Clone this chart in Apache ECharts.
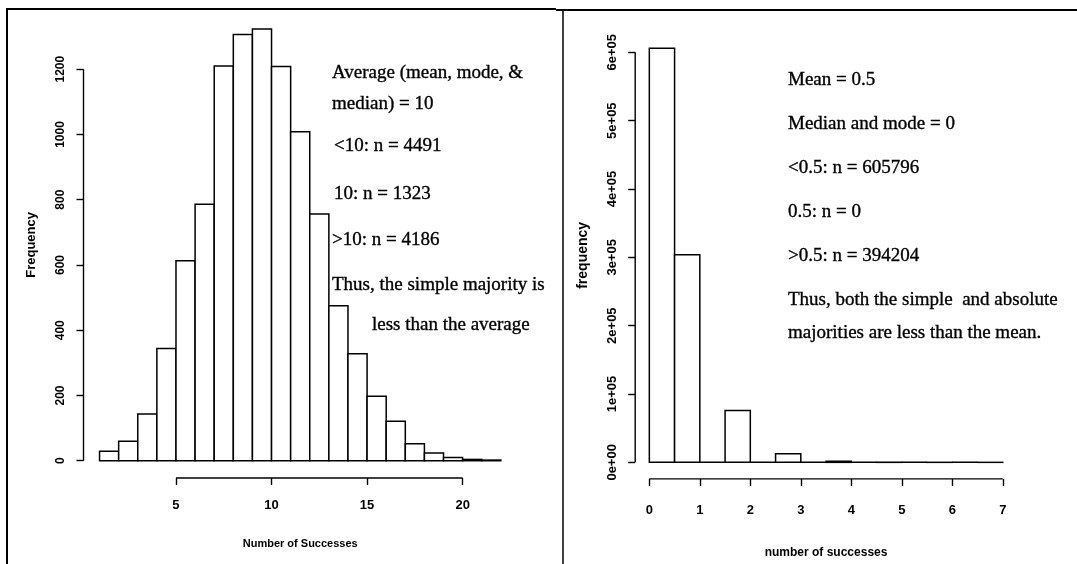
<!DOCTYPE html>
<html>
<head>
<meta charset="utf-8">
<script src="https://cdn.jsdelivr.net/npm/echarts@6/dist/echarts.min.js"></script>
<style>
  html, body { margin: 0; padding: 0; background: #fff; }
  #chart { width: 1077px; height: 564px; }
</style>
</head>
<body>
<div id="chart"></div>
<script>
// ---- Left histogram: number of successes, 10,000 runs ----
const leftBreaks = [1, 2, 3, 4, 5, 6, 7, 8, 9, 10, 11, 12, 13, 14, 15, 16, 17, 18, 19, 20, 21, 22];
const leftCounts = [29, 60, 143, 344, 613, 786, 1210, 1306, 1323, 1208, 1008, 756, 475, 328, 198, 121, 52, 24, 10, 4, 2];
const leftXTicks = [5, 10, 15, 20];
const leftYTicks = [0, 200, 400, 600, 800, 1000, 1200];
const leftNotes = [
  'Average (mean, mode, &',
  'median) = 10',
  '<10: n = 4491',
  '10: n = 1323',
  '>10: n = 4186',
  'Thus, the simple majority is',
  'less than the average'
];

// ---- Right histogram: number of successes, 1,000,000 runs ----
const rightBreaks = [0, 0.5, 1, 1.5, 2, 2.5, 3, 3.5, 4, 4.5, 5, 5.5, 6, 6.5, 7];
const rightCounts = [605796, 303700, 0, 76000, 0, 12700, 0, 1600, 0, 180, 0, 20, 0, 4];
const rightXTicks = [0, 1, 2, 3, 4, 5, 6, 7];
const rightYTicks = [0, 100000, 200000, 300000, 400000, 500000, 600000];
const rightYTickLabels = ['0e+00', '1e+05', '2e+05', '3e+05', '4e+05', '5e+05', '6e+05'];
const rightNotes = [
  'Mean = 0.5',
  'Median and mode = 0',
  '<0.5: n = 605796',
  '0.5: n = 0',
  '>0.5: n = 394204',
  'Thus, both the simple  and absolute',
  'majorities are less than the mean.'
];

// R-style plot range: data range padded by 4% on each side
function padRange(lo, hi) {
  const d = (hi - lo) * 0.04;
  return [lo - d, hi + d];
}
const leftX = padRange(leftBreaks[0], leftBreaks[leftBreaks.length - 1]);
const leftY = padRange(0, Math.max.apply(null, leftCounts));
const rightX = padRange(rightBreaks[0], rightBreaks[rightBreaks.length - 1]);
const rightY = padRange(0, Math.max.apply(null, rightCounts));

const SANS = '"Liberation Sans", Arial, sans-serif';
const SERIF = '"Liberation Serif", "Times New Roman", serif';

function binsOf(breaks, counts) {
  return counts.map((c, i) => [breaks[i], breaks[i + 1], c]);
}

function histItem(params, api) {
  const base = api.coord([api.value(0), 0]);
  const top = api.coord([api.value(1), api.value(2)]);
  return {
    type: 'rect',
    shape: { x: base[0], y: top[1], width: top[0] - base[0], height: base[1] - top[1] },
    style: { fill: '#fff', stroke: '#000', lineWidth: 1.5 }
  };
}

// axis line drawn only between the first and last tick, as in base R graphics
function segItem(params, api) {
  const p0 = api.coord([api.value(0), api.value(1)]);
  const p1 = api.coord([api.value(2), api.value(3)]);
  return {
    type: 'line',
    shape: { x1: p0[0], y1: p0[1], x2: p1[0], y2: p1[1] },
    style: { stroke: '#000', lineWidth: 1.4 }
  };
}

function axisSegments(xr, yr, xt, yt) {
  return [
    [xt[0], yr[0], xt[xt.length - 1], yr[0]],
    [xr[0], yt[0], xr[0], yt[yt.length - 1]]
  ];
}

function labelStyle(size) {
  return { color: '#000', fontFamily: SANS, fontSize: size, fontWeight: 'bold' };
}

function xAxisCfg(gridIndex, range, ticks, name, margin, gap, size, nameSize) {
  return {
    type: 'value', gridIndex, min: range[0], max: range[1],
    axisLine: { show: false, onZero: false },
    splitLine: { show: false },
    axisTick: { show: true, length: 7, customValues: ticks, lineStyle: { color: '#000', width: 1.4 } },
    axisLabel: Object.assign({ customValues: ticks, margin }, labelStyle(size)),
    name, nameLocation: 'middle', nameGap: gap,
    nameTextStyle: labelStyle(nameSize)
  };
}

function yAxisCfg(gridIndex, range, ticks, name, margin, gap, size, nameSize, formatter) {
  return {
    type: 'value', gridIndex, min: range[0], max: range[1],
    axisLine: { show: false, onZero: false },
    splitLine: { show: false },
    axisTick: { show: true, length: 7, customValues: ticks, lineStyle: { color: '#000', width: 1.4 } },
    axisLabel: Object.assign({ customValues: ticks, margin, rotate: 90, formatter }, labelStyle(size)),
    name, nameLocation: 'middle', nameGap: gap, nameRotate: 90,
    nameTextStyle: labelStyle(nameSize)
  };
}

function notes(lines, xs, ys) {
  return lines.map((t, i) => ({
    type: 'text', x: xs[i], y: ys[i],
    style: {
      text: t, font: '19px ' + SERIF, fill: '#000',
      stroke: '#000', lineWidth: 0.35, verticalAlign: 'middle'
    }
  }));
}

const chart = echarts.init(document.getElementById('chart'), null, { renderer: 'canvas' });

chart.setOption({
  animation: false,
  backgroundColor: '#fff',
  grid: [
    { left: 83.5, top: 11.8, width: 433.4, height: 466.2 },
    { left: 635.2, top: 31.8, width: 381.7, height: 447.1 }
  ],
  xAxis: [
    xAxisCfg(0, leftX, leftXTicks, 'Number of Successes', 21, 60, 13, 11),
    xAxisCfg(1, rightX, rightXTicks, 'number of successes', 25, 68, 13, 12)
  ],
  yAxis: [
    yAxisCfg(0, leftY, leftYTicks, 'Frequency', 17, 46, 12, 13, v => String(v)),
    yAxisCfg(1, rightY, rightYTicks, 'frequency', 16, 45, 13, 14,
      v => rightYTickLabels[rightYTicks.indexOf(v)])
  ],
  series: [
    {
      type: 'custom', xAxisIndex: 0, yAxisIndex: 0,
      renderItem: histItem, data: binsOf(leftBreaks, leftCounts)
    },
    {
      type: 'custom', xAxisIndex: 1, yAxisIndex: 1,
      renderItem: histItem, data: binsOf(rightBreaks, rightCounts)
    },
    {
      type: 'custom', xAxisIndex: 0, yAxisIndex: 0, silent: true,
      renderItem: segItem, data: axisSegments(leftX, leftY, leftXTicks, leftYTicks)
    },
    {
      type: 'custom', xAxisIndex: 1, yAxisIndex: 1, silent: true,
      renderItem: segItem, data: axisSegments(rightX, rightY, rightXTicks, rightYTicks)
    }
  ],
  graphic: [
    // panel frames
    { type: 'line', shape: { x1: 7, y1: 9, x2: 556, y2: 9 }, style: { stroke: '#000', lineWidth: 2 } },
    { type: 'line', shape: { x1: 556, y1: 10, x2: 1077, y2: 10 }, style: { stroke: '#000', lineWidth: 2 } },
    { type: 'line', shape: { x1: 7, y1: 8, x2: 7, y2: 564 }, style: { stroke: '#000', lineWidth: 2 } },
    { type: 'line', shape: { x1: 563, y1: 10, x2: 563, y2: 564 }, style: { stroke: '#000', lineWidth: 1.5 } }
  ]
    .concat(notes(leftNotes, [332, 332, 334, 334, 332, 332, 372], [73, 104, 146, 194, 240, 285, 325]))
    .concat(notes(rightNotes, [788, 788, 788, 788, 788, 788, 788], [80, 124, 168, 212, 256, 300, 333]))
});
</script>
</body>
</html>
